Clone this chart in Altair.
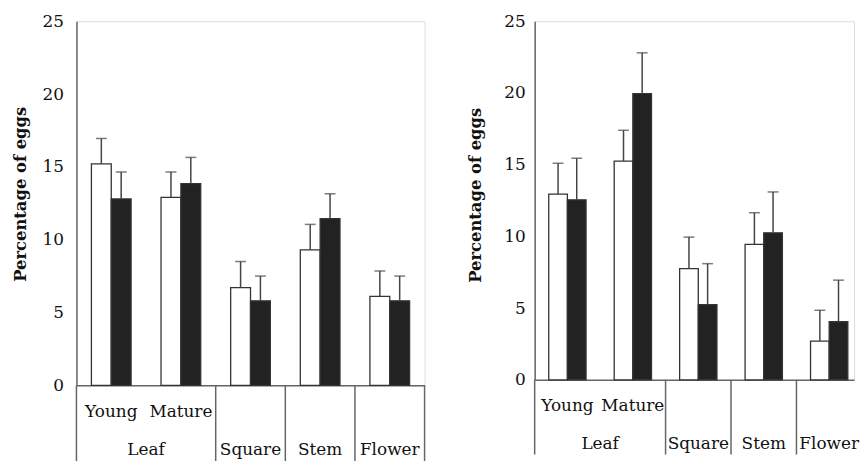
import altair as alt
import pandas as pd

# ---- data ----
categories = ["Young", "Mature", "Square", "Stem", "Flower"]
parts = ["Leaf", "Square", "Stem", "Flower"]
part_span = [2, 1, 1, 1]          # number of categories covered by each part
sub_labels = ["Young", "Mature", "", "", ""]

left_open = [15.2, 12.9, 6.7, 9.3, 6.1]
left_open_err = [1.75, 1.75, 1.8, 1.75, 1.75]
left_filled = [12.8, 13.85, 5.8, 11.45, 5.8]
left_filled_err = [1.85, 1.8, 1.7, 1.7, 1.7]

right_open = [12.95, 15.25, 7.75, 9.45, 2.7]
right_open_err = [2.15, 2.15, 2.2, 2.2, 2.15]
right_filled = [12.55, 19.95, 5.25, 10.25, 4.05]
right_filled_err = [2.9, 2.85, 2.85, 2.85, 2.9]

y_ticks = [0, 5, 10, 15, 20, 25]

FONT = "DejaVu Serif"
BW = 0.285  # bar width in category units


def bar_table(open_v, open_e, filled_v, filled_e):
    rows = []
    for i, c in enumerate(categories):
        rows.append({"idx": i, "cat": c, "series": "open", "value": open_v[i], "err": open_e[i]})
        rows.append({"idx": i, "cat": c, "series": "filled", "value": filled_v[i], "err": filled_e[i]})
    return pd.DataFrame(rows)


def label_tables(xmax):
    row1 = pd.DataFrame({"label": [s for s in sub_labels if s],
                         "idx": [i for i, s in enumerate(sub_labels) if s]})
    starts, centers, acc = [0], [], 0
    for s in part_span:
        centers.append(acc + s / 2)
        acc += s
        starts.append(acc)
    row2 = pd.DataFrame({"label": parts, "pos": centers})
    seps = pd.DataFrame({"pos": [p for p in starts if p <= xmax]})
    return row1, row2, seps


def panel(open_v, open_e, filled_v, filled_e, w, h, xmax, label_pad, title_pad, title_y,
          sep_depth, dy1, dy2):
    df = bar_table(open_v, open_e, filled_v, filled_e)
    row1, row2, seps = label_tables(xmax)
    xs = alt.Scale(domain=[0, xmax], nice=False, zero=False)
    ys = alt.Scale(domain=[0, 25], nice=False)
    yaxis = alt.Axis(values=y_ticks, ticks=False, tickSize=0, grid=False,
                     domainColor="#666", domainWidth=1.5,
                     labelFont=FONT, labelFontSize=17, labelColor="#111",
                     labelPadding=label_pad,
                     title="Percentage of eggs", titleFont=FONT, titleFontSize=16.5,
                     titleFontWeight="bold", titleColor="#111",
                     titlePadding=title_pad, titleY=title_y)
    xaxis = alt.Axis(labels=False, ticks=False, grid=False, title=None,
                     domainColor="#666", domainWidth=1.5)

    base = alt.Chart(df).transform_calculate(
        x0=f"datum.idx + 0.5 - {BW} + (datum.series == 'filled' ? {BW} : 0)"
    ).transform_calculate(
        x1=f"datum.x0 + {BW}",
        xc=f"datum.x0 + {BW / 2}",
        top="datum.value + datum.err",
    )

    bars = base.mark_bar(stroke="#333", strokeWidth=1.3).encode(
        x=alt.X("x0:Q", scale=xs, axis=xaxis),
        x2="x1:Q",
        y=alt.Y("value:Q", scale=ys, axis=yaxis),
        y2=alt.datum(0),
        fill=alt.Fill("series:N", scale=alt.Scale(domain=["open", "filled"],
                                                  range=["#ffffff", "#222222"]),
                      legend=None),
    )
    err = base.mark_rule(color="#444", strokeWidth=1.5).encode(
        x=alt.X("xc:Q", scale=xs), y=alt.Y("value:Q", scale=ys), y2="top:Q"
    )
    cap = base.mark_tick(color="#444", thickness=1.5, size=11, orient="horizontal").encode(
        x=alt.X("xc:Q", scale=xs), y=alt.Y("top:Q", scale=ys)
    )
    sep = alt.Chart(seps).mark_rule(color="#666", strokeWidth=1.5).encode(
        x=alt.X("pos:Q", scale=xs), y=alt.datum(0), y2=alt.datum(-sep_depth)
    )
    t1 = alt.Chart(row1).transform_calculate(pos="datum.idx + 0.5").mark_text(
        font=FONT, fontSize=17, color="#111", baseline="alphabetic", dy=dy1
    ).encode(x=alt.X("pos:Q", scale=xs), y=alt.datum(0), text="label:N")
    t2 = alt.Chart(row2).mark_text(
        font=FONT, fontSize=17, color="#111", baseline="alphabetic", dy=dy2
    ).encode(x=alt.X("pos:Q", scale=xs), y=alt.datum(0), text="label:N")

    return alt.layer(bars, err, cap, sep, t1, t2).properties(width=w, height=h)


left = panel(left_open, left_open_err, left_filled, left_filled_err,
             w=351, h=367, xmax=5, label_pad=13, title_pad=14, title_y=174, sep_depth=5.3,
             dy1=32, dy2=70)
right = panel(right_open, right_open_err, right_filled, right_filled_err,
              w=322, h=361.5, xmax=4.88, label_pad=9.5, title_pad=20.5, title_y=175,
              sep_depth=5.21, dy1=31.5, dy2=69.5)

chart = alt.hconcat(left, right, spacing=40).properties(
    padding={"left": 3, "top": 1.5, "right": 0, "bottom": 0}
).configure_view(stroke=None).configure(background="white", font=FONT)

chart.save("out.html", embed_options={"renderer": "svg", "actions": False})
